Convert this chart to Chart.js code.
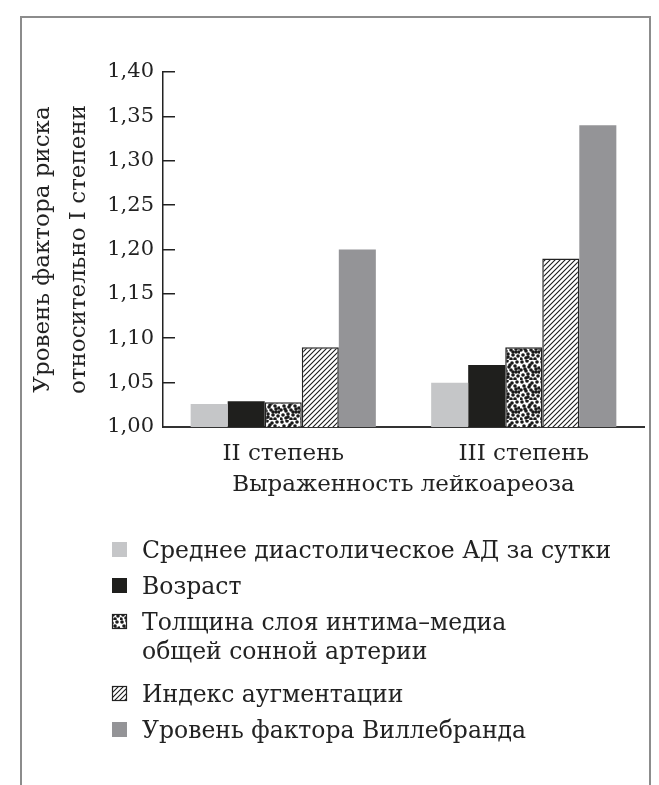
<!DOCTYPE html>
<html lang="ru">
<head>
    <meta charset="UTF-8">
    <title>Уровень фактора риска относительно I степени</title>
    <script src="https://cdn.jsdelivr.net/npm/chart.js"></script>
    <style>
        body {
            margin: 0;
            background: #fff;
        }
        .wrap {
            position: relative;
            width: 659px;
            height: 785px;
        }
        .frame {
            position: absolute;
            left: 20px;
            top: 16px;
            width: 631px;
            height: 769px;
            border: 2px solid #8c8c8c;
            border-bottom: none;
            box-sizing: border-box;
        }
        canvas {
            position: absolute;
            left: 0;
            top: 0;
        }
    </style>
</head>
<body>
    <div class="wrap">
        <div class="frame"></div>
        <canvas id="riskChart" width="659" height="785"></canvas>
    </div>

    <script>
        // data
        const categories = ["II степень", "III степень"];
        const seriesNames = [
            "Среднее диастолическое АД за сутки",
            "Возраст",
            "Толщина слоя интима–медиа\nобщей сонной артерии",
            "Индекс аугментации",
            "Уровень фактора Виллебранда"
        ];
        const diastolicBP = [1.026, 1.05];
        const age = [1.029, 1.07];
        const intimaMedia = [1.028, 1.09];
        const augmentation = [1.09, 1.19];
        const willebrand = [1.20, 1.34];
        const yMin = 1.00, yMax = 1.40, yStep = 0.05;

        const serif = "'DejaVu Serif', 'Liberation Serif', serif";
        const ink = "#222";

        function dotPattern() {
            const c = document.createElement("canvas");
            c.width = 20; c.height = 20;
            const g = c.getContext("2d");
            g.fillStyle = "#fff";
            g.fillRect(0, 0, 20, 20);
            g.fillStyle = "#1a1a1a";
            const dots = [[2,2],[7,1],[12,3],[17,2],[4,6],[9,7],[15,6],[19,8],[1,10],[6,11],
                          [11,10],[16,12],[3,15],[8,14],[13,15],[18,16],[1,19],[6,18],[11,19],[15,19],
                          [10,5],[13,12],[5,9],[19,12],[16,9],[8,17]];
            dots.forEach(([x, y]) => {
                g.beginPath();
                g.arc(x, y, 1.8, 0, Math.PI * 2);
                g.fill();
            });
            return g.createPattern(c, "repeat");
        }

        function hatchPattern() {
            const s = 5;
            const c = document.createElement("canvas");
            c.width = s; c.height = s;
            const g = c.getContext("2d");
            g.fillStyle = "#fff";
            g.fillRect(0, 0, s, s);
            g.strokeStyle = "#1a1a1a";
            g.lineWidth = 1.1;
            g.beginPath();
            g.moveTo(0, s); g.lineTo(s, 0);
            g.moveTo(-1, 1); g.lineTo(1, -1);
            g.moveTo(s - 1, s + 1); g.lineTo(s + 1, s - 1);
            g.stroke();
            return g.createPattern(c, "repeat");
        }

        const legendBlock = {
            id: "legendBlock",
            afterDraw(chart) {
                const ctx = chart.ctx;
                ctx.save();
                ctx.font = "23.5px " + serif;
                ctx.textBaseline = "middle";
                let y = chart.chartArea.bottom + 123;
                chart.data.datasets.forEach(ds => {
                    const lines = ds.label.split("\n");
                    ctx.fillStyle = ds.backgroundColor;
                    ctx.fillRect(112, y - 8, 15, 15);
                    if (ds.borderWidth) {
                        ctx.strokeStyle = ds.borderColor;
                        ctx.lineWidth = 1.2;
                        ctx.strokeRect(112.5, y - 7.5, 14, 14);
                    }
                    ctx.fillStyle = ink;
                    lines.forEach((t, i) => ctx.fillText(t, 142, y + 2 + i * 29));
                    y += 36 * lines.length;
                });
                ctx.restore();
            }
        };

        const values = [diastolicBP, age, intimaMedia, augmentation, willebrand];
        const fills = ["#c5c6c8", "#1f1f1d", dotPattern(), hatchPattern(), "#949497"];
        const borders = [0, 0, 1.5, 1.5, 0];

        new Chart(document.getElementById("riskChart"), {
            type: "bar",
            data: {
                labels: categories,
                datasets: values.map((v, i) => ({
                    label: seriesNames[i],
                    data: v,
                    backgroundColor: fills[i],
                    borderColor: ink,
                    borderWidth: borders[i],
                    barPercentage: 1,
                    categoryPercentage: 0.77
                }))
            },
            options: {
                responsive: false,
                animation: false,
                layout: { padding: { top: 72, right: 15, bottom: 278, left: 0 } },
                plugins: {
                    legend: { display: false },
                    tooltip: { enabled: false }
                },
                scales: {
                    x: {
                        grid: { display: false, drawTicks: false },
                        border: { display: true, color: "#333", width: 2 },
                        ticks: { color: ink, padding: 13, font: { family: serif, size: 23 } },
                        title: {
                            display: true,
                            text: "Выраженность лейкоареоза",
                            color: ink,
                            font: { family: serif, size: 23 },
                            padding: { top: 0, bottom: 8 }
                        },
                        afterFit: s => { s.height = 80; }
                    },
                    y: {
                        min: yMin,
                        max: yMax,
                        grid: {
                            drawOnChartArea: false,
                            tickLength: -12,
                            color: ink,
                            lineWidth: 1.5
                        },
                        border: { display: true, color: ink, width: 1.5 },
                        ticks: {
                            stepSize: yStep,
                            color: ink,
                            padding: 21,
                            font: { family: serif, size: 21 },
                            callback: v => v.toFixed(2).replace(".", ",")
                        },
                        title: {
                            display: true,
                            text: ["Уровень фактора риска", "относительно I степени"],
                            color: ink,
                            font: { family: serif, size: 23, lineHeight: 1.57 },
                            padding: { top: 25, bottom: 0 }
                        },
                        afterFit: s => { s.width = 163; }
                    }
                }
            },
            plugins: [legendBlock]
        });
    </script>
</body>
</html>
